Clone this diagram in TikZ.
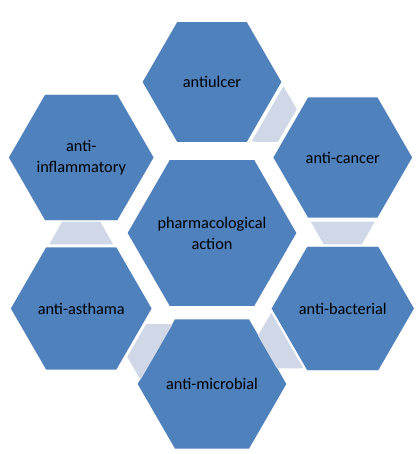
\documentclass[tikz,border=0pt]{standalone}
\usepackage{fontspec}
\setmainfont{Carlito}
\usetikzlibrary{calc,shapes.geometric}
\definecolor{hexblue}{HTML}{4F81BD}
\definecolor{hexlink}{HTML}{D0D8E8}

\begin{document}
\begin{tikzpicture}[x=1pt, y=1pt, font=\fontsize{16.3}{21}\selectfont,
    hex/.style={regular polygon, regular polygon sides=6, fill=hexblue, draw=white,
      line width=0.8pt, inner sep=0pt, minimum size=140pt, align=center},
    link/.style={fill=hexlink}]
  \useasboundingbox (0,0) rectangle (416,454);

  % --- 中心六边形（文字另放，免得撑大形状）---
  \node[hex, minimum size=170pt] (P) at (212,221) {};
  \node[align=center] (Pt) at (P.center) {pharmacological\\action};

  % --- 外圈六边形（半径 151，每 60° 一个）---
  \foreach \n/\ang/\txt in {U/90/antiulcer, Ca/30/anti-cancer, Ba/-30/anti-bacterial,
                            Mi/-90/anti-microbial, As/-150/anti-asthama,
                            In/150/{anti-\\inflammatory}} {
    \node[hex] (\n) at ($(P)+(\ang:151)$) {\txt};
  }

  % --- 相邻六边形间的梯形（宽端朝前一个）---
  \foreach \a/\b in {U/Ca, Ca/Ba, Ba/Mi, Mi/As, As/In} {
    \coordinate (p) at ($(\a.center)!0.424!(\b.center)$);
    \coordinate (q) at ($(\a.center)!0.576!(\b.center)$);
    \fill[link] ($(p)!32pt!90:(\a.center)$) -- ($(p)!32pt!-90:(\a.center)$)
      -- ($(q)!19pt!90:(\b.center)$) -- ($(q)!19pt!-90:(\b.center)$) -- cycle;
  }
\end{tikzpicture}
\end{document}
